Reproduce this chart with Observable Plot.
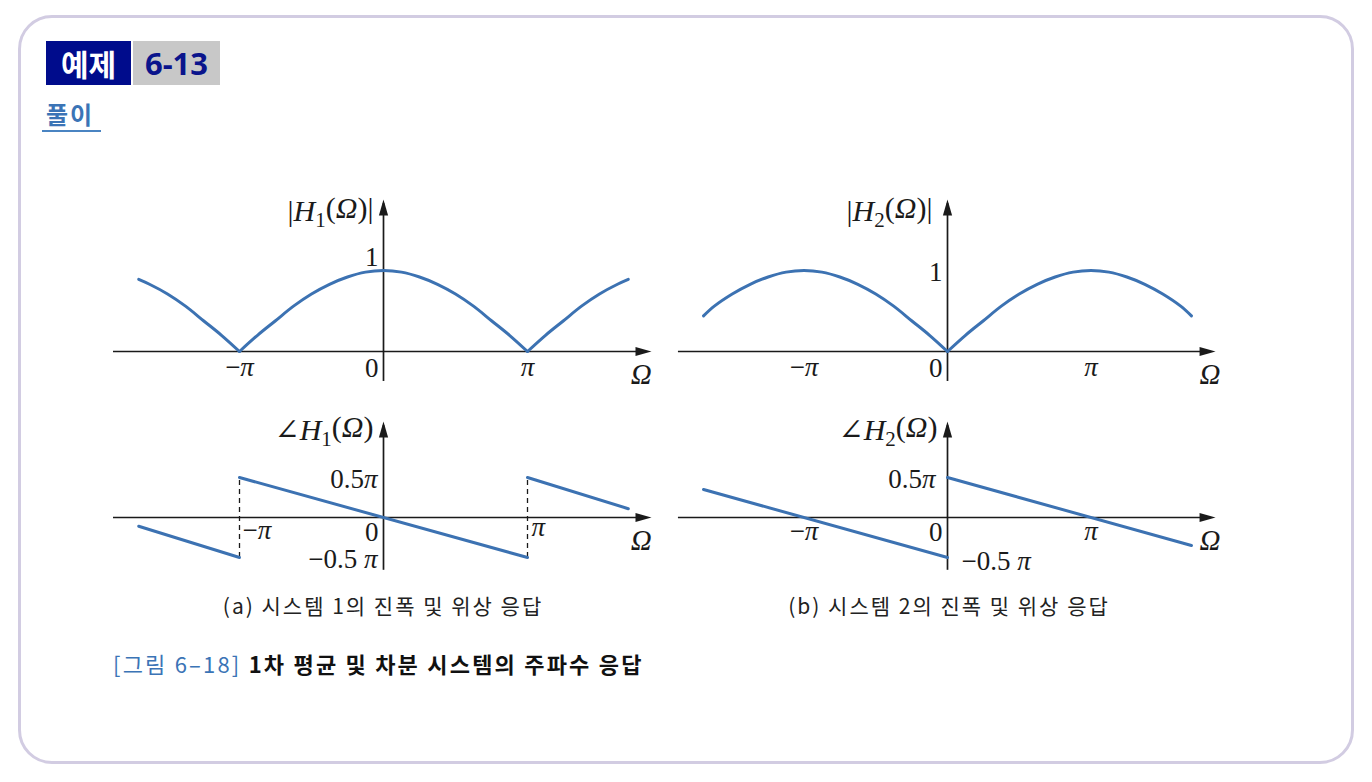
<!DOCTYPE html>
<html><head><meta charset="utf-8">
<script src="https://cdn.jsdelivr.net/npm/d3@7"></script>
<script src="https://cdn.jsdelivr.net/npm/@observablehq/plot@0.6"></script>
<style>
body{margin:0;background:#fff;}
#page{position:relative;width:1372px;height:782px;overflow:hidden;font-family:"Noto Sans CJK KR","Noto Sans",sans-serif;}
.abs{position:absolute;}
#frame{left:18px;top:15px;width:1336px;height:749px;border:3px solid #d2cce2;border-radius:34px;box-sizing:border-box;}
#ex{left:46px;top:41px;width:85px;height:44px;background:#000c8c;color:#fff;font-weight:700;font-size:30px;line-height:44px;text-align:center;}
#num{left:133px;top:41px;width:87px;height:44px;background:#c8c8c8;color:#0a148c;font-weight:700;font-size:31px;line-height:44px;text-align:center;font-family:"Noto Sans","Noto Sans CJK KR",sans-serif;}
#sol{left:46px;top:99px;font-size:24px;letter-spacing:2px;font-weight:700;color:#3b74b6;line-height:30px;}
#solline{left:42px;top:130px;width:59px;height:2px;background:#4a84c2;}
.cap{font-size:21px;letter-spacing:2px;color:#222;line-height:26px;white-space:nowrap;transform:translateX(-50%);}
#figcap{left:113px;top:649px;font-size:22px;letter-spacing:2.2px;line-height:28px;white-space:nowrap;}
#figcap .n{color:#3b74b6;}
#figcap .t{font-weight:700;color:#111;}
svg.panel{position:absolute;background:transparent;overflow:visible;}
</style></head><body>
<div id="page">
  <div id="frame" class="abs"></div>
  <div id="ex" class="abs">예제</div>
  <div id="num" class="abs">6-13</div>
  <div id="sol" class="abs">풀이</div>
  <div id="solline" class="abs"></div>
  <div class="abs cap" style="left:383px;top:592px;">(a) 시스템 1의 진폭 및 위상 응답</div>
  <div class="abs cap" style="left:949px;top:592px;">(b) 시스템 2의 진폭 및 위상 응답</div>
  <div id="figcap" class="abs"><span class="n">[그림 6–18]</span> <span class="t">1차 평균 및 차분 시스템의 주파수 응답</span></div>
</div>
<script>
// ---------- data (Ω in units of π) ----------
const magOmega = [-1.7,-1.625,-1.5,-1.375,-1.25,-1.125,-1,-0.875,-0.75,-0.625,-0.5,-0.375,-0.25,-0.125,0,0.125,0.25,0.375,0.5,0.625,0.75,0.875,1,1.125,1.25,1.375,1.5,1.625,1.7];
const mag1Values = [0.89,0.83,0.71,0.56,0.38,0.2,0,0.2,0.38,0.56,0.71,0.83,0.92,0.98,1,0.98,0.92,0.83,0.71,0.56,0.38,0.2,0,0.2,0.38,0.56,0.71,0.83,0.89];
const mag2Values = [0.44,0.56,0.71,0.83,0.92,0.98,1,0.98,0.92,0.83,0.71,0.56,0.38,0.2,0,0.2,0.38,0.56,0.71,0.83,0.92,0.98,1,0.98,0.92,0.83,0.71,0.56,0.44];
const mag1Cusps = [-1, 1];
const mag2Cusps = [0];
const phase1Omega = [-1.7,-1,-1,1,1,1.7];
const phase1Values = [-0.11,-0.5,0.5,-0.5,0.5,0.11];
const phase1Segment = [0,0,1,1,2,2];
const phase2Omega = [-1.7,0,0,1.7];
const phase2Values = [0.35,-0.5,0.5,-0.35];
const phase2Segment = [0,0,1,1];
const phase1Jumps = [-1, 1];
const xTickValues = [-1, 0, 1];
const xTickLabels = ["−π", "0", "π"];
const magTickValues = [1];
const magTickLabels = ["1"];
const phaseTickValues = [0.5, -0.5];
const phaseTickLabels = ["0.5π", "−0.5 π"];
const panelTitles = ["|H_1(Ω)|", "|H_2(Ω)|", "∠H_1(Ω)", "∠H_2(Ω)"];
const axisName = "Ω";

// ---------- styling ----------
const CURVE = "#3c72b2";
const INK = "#1a1a1a";
const MATH = "'Liberation Serif','DejaVu Serif',serif";
const FS = 27;
const TFS = 30;

function splitAt(omega, values, cusps) {
  const rows = [];
  omega.forEach((w, i) => {
    const seg = cusps.filter(c => c < w).length;
    rows.push({w, v: values[i], seg});
    if (cusps.includes(w)) rows.push({w, v: values[i], seg: seg + 1});
  });
  return rows;
}
const zip = (a, b, c) => a.map((w, i) => ({w, v: b[i], seg: c ? c[i] : 0}));

const arrowRight = {draw(ctx){ctx.moveTo(0,0);ctx.lineTo(-16,-4.6);ctx.lineTo(-16,4.6);ctx.closePath();}};
const arrowUp = {draw(ctx){ctx.moveTo(0,0);ctx.lineTo(-4.6,16);ctx.lineTo(4.6,16);ctx.closePath();}};

function axes(xa, xb, yb, yt) {
  return [
    Plot.ruleY([0], {x1: xa, x2: xb - 0.05, stroke: INK, strokeWidth: 1.7}),
    Plot.ruleX([0], {y1: yb, y2: yt - 0.05, stroke: INK, strokeWidth: 1.7}),
    Plot.dot([0], {x: xb, y: 0, symbol: arrowRight, fill: INK, stroke: "none"}),
    Plot.dot([0], {x: 0, y: yt, symbol: arrowUp, fill: INK, stroke: "none"})
  ];
}
function label(x, y, text, o = {}) {
  return Plot.text([text], {x, y, text: d => d, fontSize: FS, fontFamily: MATH, fill: INK, ...o});
}

function styleMath(svg) {
  const ns = "http://www.w3.org/2000/svg";
  svg.querySelectorAll("text").forEach(t => {
    if (t.querySelector("tspan")) return;
    const s = t.textContent;
    t.textContent = "";
    let restore = false;
    for (let i = 0; i < s.length; i++) {
      const ch = s[i];
      const sp = document.createElementNS(ns, "tspan");
      if (ch === "_") {
        sp.textContent = s[++i];
        sp.setAttribute("font-size", "70%");
        sp.setAttribute("dy", "0.3em");
        t.appendChild(sp);
        restore = true;
        continue;
      }
      sp.textContent = ch;
      if (restore) { sp.setAttribute("dy", "-0.3em"); restore = false; }
      if ("HΩπ".includes(ch)) sp.setAttribute("font-style", "italic");
      t.appendChild(sp);
    }
  });
}

function panel({left, top, width, height, x0, y0, xu, yu, marks}) {
  const svg = Plot.plot({
    width, height, margin: 0,
    x: {domain: [(left - x0) / xu, (left + width - x0) / xu], axis: null},
    y: {domain: [(y0 - top - height) / yu, (y0 - top) / yu], axis: null},
    marks
  });
  svg.classList.add("panel");
  svg.style.left = left + "px";
  svg.style.top = top + "px";
  svg.style.background = "transparent";
  svg.style.overflow = "visible";
  svg.style.maxWidth = "none";
  styleMath(svg);
  document.getElementById("page").appendChild(svg);
}

// ---- (a) |H1| ----
panel({left: 95, top: 185, width: 600, height: 215, x0: 383, y0: 351, xu: 144, yu: 81, marks: [
  ...axes(-1.875, 1.861, -0.37, 1.877),
  Plot.line(splitAt(magOmega, mag1Values, mag1Cusps), {x: "w", y: "v", z: "seg", curve: "catmull-rom", stroke: CURVE, strokeWidth: 3}),
  label(xTickValues[0], 0, xTickLabels[0], {dy: 16}),
  label(xTickValues[2], 0, xTickLabels[2], {dy: 16}),
  label(xTickValues[1], 0, xTickLabels[1], {dy: 17, dx: -5, textAnchor: "end"}),
  label(0, magTickValues[0], magTickLabels[0], {dx: -5, dy: -13, textAnchor: "end"}),
  label(1.79, 0, axisName, {dy: 23, fontSize: 29}),
  label(0, 1.73, panelTitles[0], {dx: -10, textAnchor: "end", fontSize: TFS})
]});

// ---- (b) |H2| ----
panel({left: 660, top: 185, width: 600, height: 215, x0: 947, y0: 351, xu: 143.5, yu: 81, marks: [
  ...axes(-1.875, 1.868, -0.37, 1.877),
  Plot.line(splitAt(magOmega, mag2Values, mag2Cusps), {x: "w", y: "v", z: "seg", curve: "catmull-rom", stroke: CURVE, strokeWidth: 3}),
  label(xTickValues[0], 0, xTickLabels[0], {dy: 16}),
  label(xTickValues[2], 0, xTickLabels[2], {dy: 16}),
  label(xTickValues[1], 0, xTickLabels[1], {dy: 17, dx: -5, textAnchor: "end"}),
  label(0, magTickValues[0], magTickLabels[0], {dx: -5, dy: 2, textAnchor: "end"}),
  label(1.83, 0, axisName, {dy: 23, fontSize: 29}),
  label(0, 1.73, panelTitles[1], {dx: -15, textAnchor: "end", fontSize: TFS})
]});

// ---- (a) ∠H1 ----
panel({left: 95, top: 405, width: 600, height: 180, x0: 383, y0: 517, xu: 144, yu: 80, marks: [
  Plot.ruleX(phase1Jumps, {y1: -0.5, y2: 0.5, stroke: INK, strokeWidth: 1.3, strokeDasharray: "5,4"}),
  ...axes(-1.875, 1.861, -0.66, 1.2),
  Plot.line(zip(phase1Omega, phase1Values, phase1Segment), {x: "w", y: "v", z: "seg", stroke: CURVE, strokeWidth: 3}),
  label(xTickValues[0], 0, xTickLabels[0], {dy: 13, dx: 3, textAnchor: "start"}),
  label(xTickValues[2], 0, xTickLabels[2], {dy: 10, dx: 4, textAnchor: "start"}),
  label(xTickValues[1], 0, xTickLabels[1], {dy: 15, dx: -5, textAnchor: "end"}),
  label(0, phaseTickValues[0], phaseTickLabels[0], {dx: -6, dy: 2, textAnchor: "end"}),
  label(0, phaseTickValues[1], phaseTickLabels[1], {dx: -6, dy: 2, textAnchor: "end"}),
  label(1.79, 0, axisName, {dy: 23, fontSize: 29}),
  label(0, 1.09, panelTitles[2], {dx: -10, textAnchor: "end", fontSize: TFS})
]});

// ---- (b) ∠H2 ----
panel({left: 660, top: 405, width: 600, height: 180, x0: 947, y0: 517, xu: 143.5, yu: 80, marks: [
  ...axes(-1.875, 1.868, -0.66, 1.2),
  Plot.line(zip(phase2Omega, phase2Values, phase2Segment), {x: "w", y: "v", z: "seg", stroke: CURVE, strokeWidth: 3}),
  label(xTickValues[0], 0, xTickLabels[0], {dy: 14}),
  label(xTickValues[2], 0, xTickLabels[2], {dy: 14}),
  label(xTickValues[1], 0, xTickLabels[1], {dy: 15, dx: -5, textAnchor: "end"}),
  label(0, phaseTickValues[0], phaseTickLabels[0], {dx: -12, dy: 2, textAnchor: "end"}),
  label(0, phaseTickValues[1], phaseTickLabels[1], {dx: 14, dy: 4, textAnchor: "start"}),
  label(1.83, 0, axisName, {dy: 23, fontSize: 29}),
  label(0, 1.09, panelTitles[3], {dx: -10, textAnchor: "end", fontSize: TFS})
]});
</script>
</body></html>
